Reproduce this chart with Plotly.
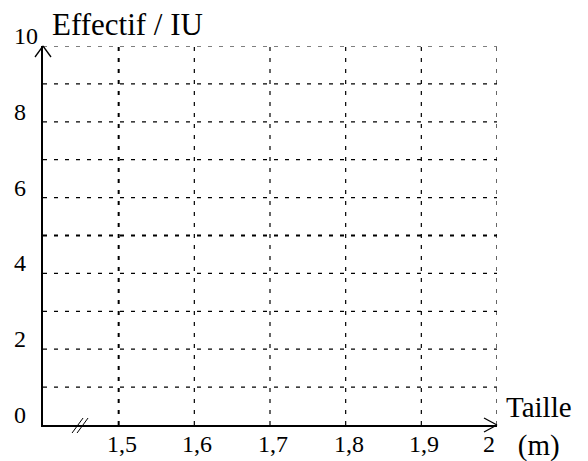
import plotly.graph_objects as go

# ---- data ----
x_ticks = [1.5, 1.6, 1.7, 1.8, 1.9, 2.0]
x_tick_labels = ["1,5", "1,6", "1,7", "1,8", "1,9", "2"]
y_grid = [1, 2, 3, 4, 5, 6, 7, 8, 9, 10]
y_ticks = [0, 2, 4, 6, 8, 10]
y_tick_labels = ["0", "2", "4", "6", "8", "10"]
x_range = [1.4, 2.0]
y_range = [0, 10]
x_title = "Taille<br>(m)"
y_title = "Effectif / IU"
x_break_at = 1.445

# ---- style ----
FONT = "Liberation Serif, Times New Roman, serif"
W, H = 588, 461
L, R, T, B = 43, 91, 46, 36
DASH = "4px,7px"
bold_x = {1.5}
bold_y = {5}

fig = go.Figure()
fig.add_trace(go.Scatter(x=x_range, y=y_range, mode="markers",
                         marker=dict(opacity=0), hoverinfo="skip", showlegend=False))

shapes = []
for xv in x_ticks:
    shapes.append(dict(type="line", xref="x", yref="y", x0=xv, x1=xv,
                       y0=y_range[0], y1=y_range[1], layer="below",
                       line=dict(color="black", width=2 if xv in bold_x else 1.2, dash=DASH)))
for yv in y_grid:
    shapes.append(dict(type="line", xref="x", yref="y", x0=x_range[0], x1=x_range[1],
                       y0=yv, y1=yv, layer="below",
                       line=dict(color="black", width=2 if yv in bold_y else 1.2, dash=DASH)))

def px(v):
    return (v - x_range[0]) / (x_range[1] - x_range[0])

arrow_line = dict(color="black", width=1.3)
for dx in (-8, 8):
    shapes.append(dict(type="line", xref="paper", yref="paper", xsizemode="pixel", ysizemode="pixel",
                       xanchor=0, yanchor=1,
                       x0=0, y0=0, x1=dx, y1=-11, line=arrow_line))
for dy in (-7, 7):
    shapes.append(dict(type="line", xref="paper", yref="paper", xsizemode="pixel", ysizemode="pixel",
                       xanchor=1, yanchor=0,
                       x0=0, y0=0, x1=-13, y1=dy, line=arrow_line))
for off in (0, 5):
    shapes.append(dict(type="line", xref="paper", yref="paper", xsizemode="pixel", ysizemode="pixel",
                       xanchor=px(x_break_at), yanchor=0,
                       x0=-5 + off, y0=-8, x1=6 + off, y1=7,
                       line=dict(color="black", width=1)))

pw, ph = W - L - R, H - T - B
annotations = []
for v, lab in zip(y_ticks, y_tick_labels):
    annotations.append(dict(xref="paper", yref="y", x=(12 - L) / pw, y=v,
                            text=lab, showarrow=False, xanchor="left", yanchor="middle",
                            yshift=10, font=dict(family=FONT, size=24, color="black")))
for i, (v, lab) in enumerate(zip(x_ticks, x_tick_labels)):
    shift = -8 if i == len(x_ticks) - 1 else 3
    annotations.append(dict(xref="x", yref="paper", x=v, y=0, text=lab, showarrow=False,
                            xanchor="center", yanchor="top", xshift=shift, yshift=-4,
                            font=dict(family=FONT, size=24, color="black")))
annotations.append(dict(xref="paper", yref="paper", x=(50 - L) / pw, y=1 + (T - 24) / ph,
                        text=y_title, showarrow=False, xanchor="left", yanchor="middle",
                        font=dict(family=FONT, size=31, color="black")))
annotations.append(dict(xref="paper", yref="paper", x=(539 - L) / pw, y=(H - B - 426) / ph,
                        text=x_title, showarrow=False, xanchor="center", yanchor="middle",
                        font=dict(family=FONT, size=29, color="black")))

fig.update_layout(
    width=W, height=H,
    margin=dict(l=L, r=R, t=T, b=B, pad=0),
    paper_bgcolor="white", plot_bgcolor="white",
    font=dict(family=FONT),
    shapes=shapes, annotations=annotations,
    showlegend=False,
    xaxis=dict(range=x_range, showgrid=False, zeroline=False, showticklabels=False,
               ticks="", showline=True, linecolor="black", linewidth=1.5, fixedrange=True),
    yaxis=dict(range=y_range, showgrid=False, zeroline=False, showticklabels=False,
               ticks="", showline=True, linecolor="black", linewidth=1.5, fixedrange=True),
)

fig.write_html("out.html", config=dict(displayModeBar=False),
               post_script="document.body.style.margin='0';document.body.style.padding='0';")
